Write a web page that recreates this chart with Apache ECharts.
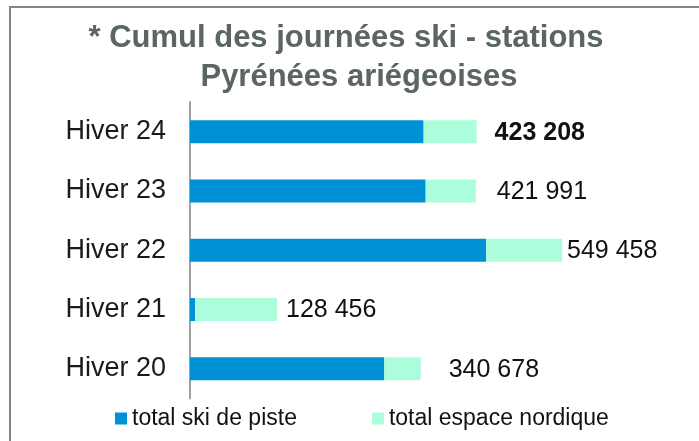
<!DOCTYPE html>
<html>
<head>
<meta charset="utf-8">
<script src="https://cdn.jsdelivr.net/npm/echarts@6/dist/echarts.min.js"></script>
<style>
html,body{margin:0;padding:0;background:#fff;}
#chart{width:699px;height:441px;}
</style>
</head>
<body>
<div id="chart"></div>
<script>
var categories = ['Hiver 24', 'Hiver 23', 'Hiver 22', 'Hiver 21', 'Hiver 20'];
var skiPiste = [345000, 348000, 437500, 7400, 287000];
var espaceNordique = [78208, 73991, 111958, 121056, 53678];
var totalLabels = ['423 208', '421 991', '549 458', '128 456', '340 678'];
var seriesNames = ['total ski de piste', 'total espace nordique'];
var titleLines = ['* Cumul des journées ski - stations', 'Pyrénées ariégeoises'];

var labelOffsets = [13, 16, 0, 4, 23];
var chart = echarts.init(document.getElementById('chart'));
var nordicData = espaceNordique.map(function (v, i) {
  return {
    value: v,
    label: {
      offset: [labelOffsets[i], 1],
      fontWeight: i === 0 ? 'bold' : 'normal'
    }
  };
});
var titleFont = { fontSize: 31, fontWeight: 'bold', fontFamily: 'Liberation Sans, Arial, sans-serif', fill: '#5b6563' };
chart.setOption({
  backgroundColor: '#ffffff',
  animation: false,
  textStyle: { fontFamily: 'Liberation Sans, Arial, sans-serif' },
  graphic: [{
    type: 'rect',
    shape: { x: 10, y: 7, width: 760, height: 480 },
    style: { fill: 'none', stroke: '#858585', lineWidth: 2 },
    silent: true
  }, {
    type: 'text',
    x: 346, y: 38,
    silent: true,
    style: Object.assign({ text: titleLines[0], align: 'center', verticalAlign: 'middle' }, titleFont)
  }, {
    type: 'text',
    x: 359, y: 77,
    silent: true,
    style: Object.assign({ text: titleLines[1], align: 'center', verticalAlign: 'middle' }, titleFont)
  }],
  legend: {
    data: seriesNames,
    left: 115,
    top: 407,
    padding: 0,
    icon: 'rect',
    itemWidth: 12,
    itemHeight: 12,
    itemGap: 75,
    textStyle: { fontSize: 23, color: '#111' }
  },
  grid: { left: 190, right: 35, top: 102, bottom: 42.5, containLabel: false },
  xAxis: {
    type: 'value',
    min: 0,
    max: 700000,
    show: false,
    splitLine: { show: false }
  },
  yAxis: {
    type: 'category',
    data: categories,
    inverse: true,
    axisLine: { show: true, lineStyle: { color: '#a0a0a0', width: 2 } },
    axisTick: { show: false },
    axisLabel: { fontSize: 27, color: '#1a1a1a', margin: 24 }
  },
  series: [{
    name: seriesNames[0],
    type: 'bar',
    stack: 'total',
    barWidth: 23,
    data: skiPiste,
    itemStyle: { color: '#0090d6' }
  }, {
    name: seriesNames[1],
    type: 'bar',
    stack: 'total',
    barWidth: 23,
    data: nordicData,
    itemStyle: { color: '#abfddc' },
    label: {
      show: true,
      position: 'right',
      distance: 5,
      fontSize: 25,
      color: '#111',
      formatter: function (p) { return totalLabels[p.dataIndex]; }
    }
  }]
});
</script>
</body>
</html>
